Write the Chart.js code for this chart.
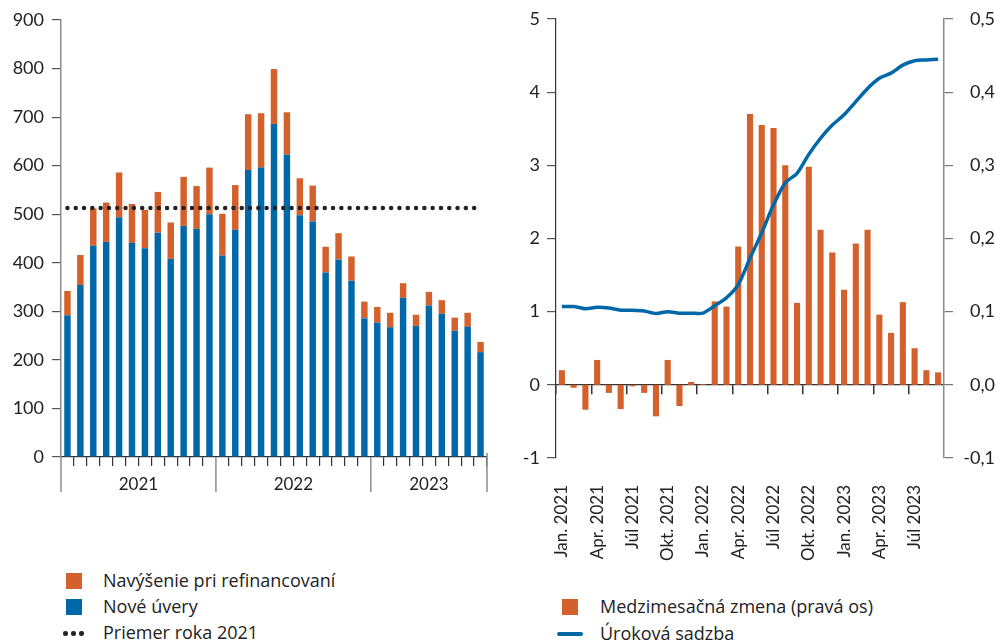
<!DOCTYPE html>
<html>
<head>
<meta charset="utf-8">
<script src="https://cdn.jsdelivr.net/npm/chart.js@4.4.0/dist/chart.umd.min.js"></script>
<style>
body{margin:0;background:#fff;font-family:Lato,sans-serif;color:#222}
#wrap{position:relative;width:995px;height:644px;overflow:hidden}
canvas{position:absolute;top:0}
#left{left:0}
#right{left:500px}
.txt{position:absolute;font-family:'Open Sans',sans-serif;font-size:18px;line-height:26px;white-space:nowrap;color:#222}
.sq{position:absolute;width:16px;height:16px}
.dot{position:absolute;width:4.5px;height:4.5px;border-radius:50%;background:#222}
</style>
</head>
<body>
<div id="wrap">
  <canvas id="left" width="500" height="500"></canvas>
  <canvas id="right" width="495" height="580"></canvas>

  <div class="sq" style="left:66px;top:573px;background:#d4612b"></div>
  <div class="txt" style="left:103px;top:567px">Navýšenie pri refinancovaní</div>
  <div class="sq" style="left:66px;top:599px;background:#0067a8"></div>
  <div class="txt" style="left:103px;top:593px">Nové úvery</div>
  <div class="dot" style="left:63px;top:631px"></div>
  <div class="dot" style="left:71px;top:631px"></div>
  <div class="dot" style="left:79px;top:631px"></div>
  <div class="txt" style="left:103px;top:619px">Priemer roka 2021</div>

  <div class="sq" style="left:562px;top:599px;background:#d4612b"></div>
  <div class="txt" style="left:600px;top:593px">Medzimesačná zmena (pravá os)</div>
  <div style="position:absolute;left:557px;top:632px;width:26px;height:4px;border-radius:2px;background:#0067a8"></div>
  <div class="txt" style="left:600px;top:620px">Úroková sadzba</div>
</div>

<script>
const months = [
  'Jan. 2021','Feb. 2021','Mar. 2021','Apr. 2021','Máj 2021','Jún 2021','Júl 2021','Aug. 2021','Sep. 2021','Okt. 2021','Nov. 2021','Dec. 2021',
  'Jan. 2022','Feb. 2022','Mar. 2022','Apr. 2022','Máj 2022','Jún 2022','Júl 2022','Aug. 2022','Sep. 2022','Okt. 2022','Nov. 2022','Dec. 2022',
  'Jan. 2023','Feb. 2023','Mar. 2023','Apr. 2023','Máj 2023','Jún 2023','Júl 2023','Aug. 2023','Sep. 2023'
];
const years = ['2021','2022','2023'];

// left panel (mil. EUR)
const newLoans = [292,354,435,443,494,441,430,462,408,476,470,500,415,468,591,596,686,623,498,485,380,407,363,286,277,267,328,270,312,295,260,268,216];
const topUp = [50,62,77,81,92,80,79,84,75,101,88,96,86,92,115,112,113,87,76,74,53,54,50,34,32,30,30,23,28,28,27,29,21];
const avg2021 = 513;
const leftTicks = [0,900,100];

// right panel
const momChange = [0.020,-0.004,-0.034,0.034,-0.011,-0.033,-0.002,-0.011,-0.043,0.034,-0.029,0.004,0.001,0.114,0.107,0.189,0.370,0.355,0.351,0.300,0.112,0.298,0.212,0.181,0.130,0.193,0.212,0.096,0.071,0.113,0.050,0.020,0.017];
const rate = [1.07,1.07,1.04,1.06,1.05,1.02,1.02,1.01,0.975,1.00,0.98,0.98,0.98,1.08,1.19,1.37,1.73,2.08,2.46,2.76,2.89,3.15,3.37,3.55,3.69,3.87,4.05,4.19,4.26,4.37,4.43,4.44,4.45];

const ORANGE = '#d4612b', BLUE = '#0067a8', TXT = '#222';
const FONT = {family:'Lato', size:18};

// year labels and separators under the left chart
const yearAxis = {
  id:'yearAxis',
  afterDraw(chart){
    const {ctx, chartArea, scales:{x}} = chart;
    const half = (x.getPixelForValue(1) - x.getPixelForValue(0)) / 2;
    ctx.save();
    ctx.strokeStyle = '#8c8c8c';
    ctx.lineWidth = 1.5;
    ctx.fillStyle = TXT;
    ctx.font = '17px Lato';
    ctx.textAlign = 'center';
    ctx.textBaseline = 'middle';
    let start = 0;
    years.forEach((yr, k) => {
      const n = months.filter(m => m.endsWith(yr)).length;
      const x0 = x.getPixelForValue(start) - half;
      const x1 = x.getPixelForValue(start + n - 1) + half;
      ctx.beginPath();
      ctx.moveTo(x0, chartArea.bottom);
      ctx.lineTo(x0, chartArea.bottom + 35);
      if (k === years.length - 1) {
        ctx.moveTo(x1, chartArea.bottom - 4);
        ctx.lineTo(x1, chartArea.bottom + 35);
      }
      ctx.stroke();
      ctx.fillText(yr, (x0 + x1) / 2, chartArea.bottom + 28);
      start += n;
    });
    ctx.restore();
  }
};

new Chart(document.getElementById('left'), {
  type:'bar',
  data:{
    labels:months,
    datasets:[
      {type:'line', label:'Priemer roka 2021', data:months.map(() => avg2021),
       borderColor:'#222', borderWidth:4.5, borderDash:[0,8.3], borderCapStyle:'round',
       pointRadius:0, stack:'avg', order:0},
      {label:'Nové úvery', data:newLoans, backgroundColor:BLUE, stack:'a', order:1,
       barPercentage:0.5, categoryPercentage:1},
      {label:'Navýšenie pri refinancovaní', data:topUp, backgroundColor:ORANGE, stack:'a', order:1,
       barPercentage:0.5, categoryPercentage:1}
    ]
  },
  options:{
    responsive:false,
    animation:false,
    layout:{padding:{top:20, right:13, left:0, bottom:0}},
    plugins:{legend:{display:false}, tooltip:{enabled:false}},
    scales:{
      x:{
        stacked:true,
        afterFit:s => { s.height = 43; },
        ticks:{display:false},
        border:{color:'#333', width:1.2},
        grid:{offset:true, drawOnChartArea:false, tickLength:9, lineWidth:1.2,
          color:c => (c.index % 12 === 0 || c.index === months.length) ? 'rgba(0,0,0,0)' : '#333'}
      },
      y:{
        stacked:true,
        min:leftTicks[0], max:leftTicks[1],
        afterFit:s => { s.width = 61; },
        ticks:{stepSize:leftTicks[2], color:TXT, font:FONT, padding:8},
        border:{color:'#8c8c8c', width:1.5},
        grid:{drawOnChartArea:false, tickLength:9, color:'#555', lineWidth:1.2}
      }
    }
  },
  plugins:[yearAxis]
});

new Chart(document.getElementById('right'), {
  type:'bar',
  data:{
    labels:months,
    datasets:[
      {type:'line', label:'Úroková sadzba', data:rate, yAxisID:'y',
       borderColor:BLUE, borderWidth:3.5, tension:0.25, pointRadius:0, order:0},
      {label:'Medzimesačná zmena (pravá os)', data:momChange, yAxisID:'y1',
       backgroundColor:ORANGE, barPercentage:0.52, categoryPercentage:1, order:1}
    ]
  },
  options:{
    responsive:false,
    animation:false,
    layout:{padding:{top:19, right:0, left:0, bottom:0}},
    plugins:{legend:{display:false}, tooltip:{enabled:false}},
    scales:{
      x:{
        position:'bottom',
        afterFit:s => { s.height = 122; },
        border:{display:false},
        grid:{display:false},
        ticks:{autoSkip:false, minRotation:90, maxRotation:90, padding:19, color:TXT,
          font:{family:'Lato', size:17},
          callback:(v, i) => i % 3 === 0 ? months[i] : ''}
      },
      x2:{
        type:'category',
        position:{y:0},
        offset:true,
        ticks:{display:false},
        border:{color:'#333', width:1.2},
        grid:{offset:true, drawOnChartArea:false, tickLength:9, lineWidth:1.5,
          color:c => c.index % 3 === 0 ? '#333' : 'rgba(0,0,0,0)'}
      },
      y:{
        position:'left',
        min:-1, max:5,
        afterFit:s => { s.width = 56; },
        ticks:{stepSize:1, color:TXT, font:FONT, padding:7},
        border:{color:'#333', width:1.2},
        grid:{drawOnChartArea:false, tickLength:9, color:'#555', lineWidth:1.2}
      },
      y1:{
        position:'right',
        min:-0.1, max:0.5,
        afterFit:s => { s.width = 51; },
        ticks:{stepSize:0.1, color:TXT, font:FONT, padding:8, crossAlign:'far',
          callback:v => (Math.abs(v) < 1e-9 ? 0 : v).toFixed(1).replace('.', ',')},
        border:{color:'#8c8c8c', width:1.5},
        grid:{drawOnChartArea:false, tickLength:9, color:'#777', lineWidth:1.2}
      }
    }
  }
});
</script>
</body>
</html>
